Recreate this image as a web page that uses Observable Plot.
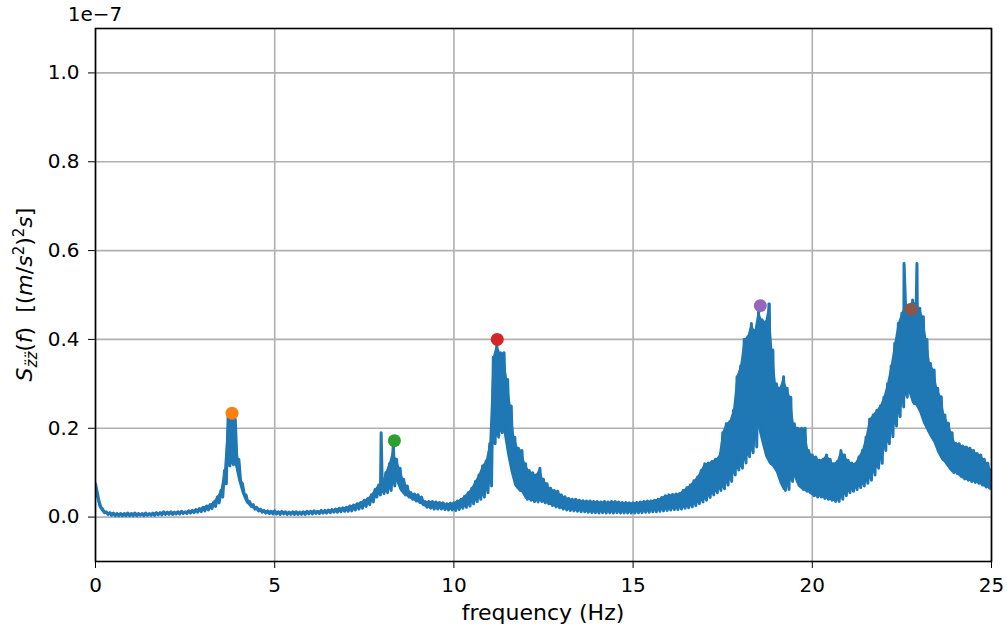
<!DOCTYPE html>
<html><head><meta charset="utf-8">
<script src="https://cdn.jsdelivr.net/npm/d3@7"></script>
<script src="https://cdn.jsdelivr.net/npm/@observablehq/plot@0.6"></script>
<style>body{margin:0;background:#fff} svg{display:block}</style>
</head><body><div id="chart"></div><script>
// Power spectral density values are in units of 1e-7 (m/s^2)^2 s
const freqStep = 0.1; // Hz, spacing of the frequency bins
// upper edge of the noisy trace at each bin (0.0 ... 25.0 Hz)
const psdHigh = [
 0.075,0.035,0.018,0.012,0.010,0.009,0.008,0.008,0.008,0.009,
 0.008,0.009,0.008,0.008,0.009,0.008,0.009,0.010,0.010,0.012,
 0.011,0.012,0.011,0.012,0.013,0.012,0.014,0.015,0.017,0.019,
 0.022,0.025,0.028,0.034,0.045,0.060,0.105,0.225,0.232,0.220,
 0.130,0.075,0.050,0.035,0.028,0.022,0.018,0.015,0.014,0.013,
 0.014,0.012,0.013,0.012,0.011,0.012,0.012,0.011,0.012,0.013,
 0.013,0.014,0.013,0.015,0.015,0.016,0.017,0.018,0.020,0.021,
 0.022,0.025,0.027,0.030,0.033,0.038,0.042,0.050,0.062,0.072,
 0.075,0.100,0.120,0.150,0.130,0.110,0.085,0.070,0.055,0.052,
 0.050,0.045,0.035,0.035,0.035,0.034,0.033,0.032,0.030,0.031,
 0.032,0.036,0.040,0.047,0.055,0.065,0.080,0.095,0.115,0.126,
 0.165,0.360,0.390,0.370,0.370,0.310,0.250,0.180,0.155,0.150,
 0.120,0.105,0.100,0.095,0.110,0.085,0.075,0.065,0.060,0.058,
 0.050,0.046,0.042,0.040,0.040,0.038,0.037,0.036,0.036,0.035,
 0.035,0.034,0.035,0.034,0.035,0.035,0.034,0.033,0.033,0.032,
 0.032,0.033,0.034,0.035,0.036,0.036,0.038,0.040,0.044,0.048,
 0.050,0.051,0.052,0.053,0.060,0.066,0.072,0.082,0.090,0.105,
 0.120,0.122,0.125,0.130,0.136,0.190,0.210,0.215,0.240,0.316,
 0.340,0.400,0.406,0.436,0.420,0.466,0.444,0.440,0.480,0.376,
 0.300,0.290,0.316,0.290,0.270,0.210,0.200,0.200,0.200,0.150,
 0.140,0.135,0.128,0.130,0.140,0.130,0.120,0.125,0.150,0.140,
 0.128,0.122,0.120,0.135,0.150,0.180,0.220,0.230,0.240,0.250,
 0.270,0.300,0.340,0.391,0.436,0.459,0.480,0.470,0.489,0.480,
 0.470,0.451,0.400,0.346,0.331,0.290,0.271,0.230,0.211,0.190,
 0.166,0.165,0.160,0.158,0.155,0.150,0.143,0.140,0.130,0.121,0.106
];
// lower edge of the noisy trace, half a bin later
const psdLow = [
 0.055,0.022,0.010,0.006,0.004,0.003,0.003,0.003,0.003,0.003,
 0.003,0.003,0.004,0.003,0.004,0.004,0.004,0.005,0.005,0.006,
 0.006,0.006,0.007,0.007,0.008,0.008,0.009,0.010,0.011,0.012,
 0.014,0.016,0.019,0.024,0.032,0.045,0.075,0.115,0.118,0.117,
 0.080,0.052,0.033,0.024,0.018,0.014,0.011,0.009,0.008,0.007,
 0.007,0.006,0.007,0.006,0.006,0.006,0.006,0.006,0.006,0.007,
 0.007,0.008,0.008,0.009,0.009,0.010,0.011,0.011,0.012,0.013,
 0.013,0.014,0.016,0.018,0.020,0.024,0.028,0.034,0.045,0.050,
 0.053,0.055,0.060,0.070,0.080,0.060,0.050,0.045,0.040,0.036,
 0.033,0.028,0.022,0.020,0.018,0.018,0.018,0.017,0.016,0.016,
 0.015,0.017,0.020,0.022,0.025,0.030,0.035,0.040,0.045,0.055,
 0.070,0.165,0.180,0.190,0.190,0.140,0.100,0.070,0.060,0.055,
 0.040,0.038,0.035,0.034,0.035,0.032,0.030,0.026,0.023,0.021,
 0.018,0.016,0.015,0.014,0.013,0.012,0.012,0.011,0.010,0.010,
 0.009,0.010,0.009,0.010,0.009,0.010,0.009,0.009,0.009,0.009,
 0.009,0.010,0.010,0.011,0.011,0.012,0.012,0.013,0.014,0.015,
 0.016,0.017,0.017,0.018,0.020,0.021,0.023,0.026,0.030,0.034,
 0.038,0.044,0.050,0.055,0.060,0.064,0.072,0.080,0.095,0.106,
 0.110,0.122,0.136,0.145,0.158,0.200,0.166,0.136,0.120,0.113,
 0.100,0.076,0.060,0.062,0.080,0.090,0.070,0.062,0.058,0.055,
 0.048,0.045,0.045,0.042,0.040,0.038,0.035,0.035,0.040,0.048,
 0.055,0.058,0.062,0.066,0.070,0.076,0.083,0.095,0.110,0.121,
 0.150,0.165,0.181,0.205,0.226,0.248,0.270,0.280,0.255,0.250,
 0.235,0.211,0.195,0.180,0.166,0.145,0.130,0.121,0.110,0.100,
 0.098,0.092,0.086,0.083,0.080,0.078,0.076,0.072,0.068,0.065,0.060
];
// isolated narrow spikes
const spikeFreq = [7.97, 8.31, 18.79, 22.56, 22.92];
const spikeVal  = [0.190, 0.165, 0.480, 0.571, 0.571];
// marked peaks
const peakFreq  = [3.81, 8.34, 11.21, 18.55, 22.76];
const peakVal   = [0.234, 0.172, 0.400, 0.476, 0.468];
const peakColor = ["#ff7f0e", "#2ca02c", "#d62728", "#9467bd", "#8c564b"];
const xTicks = [0, 5, 10, 15, 20, 25];
const yTicks = [0.0, 0.2, 0.4, 0.6, 0.8, 1.0];

const trace = [];
const band = [];
for (let i = 0; i < psdHigh.length; i++) {
  const f = i * freqStep;
  band.push({f, lo: psdLow[i], hi: psdHigh[i]});
  trace.push({f, v: psdHigh[i]});
  if (i < psdHigh.length - 1) trace.push({f: f + freqStep / 2, v: psdLow[i]});
}
spikeFreq.forEach((f, i) => trace.push({f, v: spikeVal[i]}));
trace.sort((a, b) => a.f - b.f);
const peaks = peakFreq.map((f, i) => ({f, v: peakVal[i], c: peakColor[i]}));

const plot = Plot.plot({
  width: 1007, height: 632,
  marginLeft: 95, marginRight: 16, marginTop: 28, marginBottom: 71,
  style: {fontFamily: "DejaVu Sans", fontSize: "20px", color: "black", background: "white"},
  x: {domain: [0, 25], ticks: xTicks, label: null, tickSize: 7, tickPadding: 9},
  y: {domain: [-0.1, 1.1], ticks: yTicks, tickFormat: d3.format(".1f"), label: null, tickSize: 7, tickPadding: 9},
  color: {type: "identity"},
  marks: [
    Plot.gridX(xTicks, {stroke: "#b0b0b0", strokeOpacity: 1, strokeWidth: 1.6}),
    Plot.gridY(yTicks, {stroke: "#b0b0b0", strokeOpacity: 1, strokeWidth: 1.6}),
    Plot.areaY(band, {x: "f", y1: "lo", y2: "hi", fill: "#1f77b4", clip: true}),
    Plot.line(trace, {x: "f", y: "v", stroke: "#1f77b4", strokeWidth: 3, clip: true}),
    Plot.dot(peaks, {x: "f", y: "v", fill: "c", r: 6.5}),
    Plot.frame({stroke: "black", strokeWidth: 1.6})
  ]
});

const svg = d3.select(plot);
svg.append("text").attr("x", 95).attr("y", 21).attr("font-size", 20).attr("fill", "black").text("1e\u22127");
svg.append("text").attr("x", 543).attr("y", 620).attr("text-anchor", "middle").attr("font-size", 22).attr("fill", "black").text("frequency (Hz)");
const yl = svg.append("text").attr("transform", "translate(32,294.5) rotate(-90)")
  .attr("text-anchor", "middle").attr("font-size", 22).attr("fill", "black");
const parts = [
  ["S", {"font-style": "italic"}],
  ["z\u0308z\u0308", {"font-style": "italic", "font-size": 15, dy: 5}],
  ["(", {dy: -5}],
  ["f", {"font-style": "italic"}],
  [")\u00a0\u00a0[(", {}],
  ["m", {"font-style": "italic"}],
  ["/", {}],
  ["s", {"font-style": "italic"}],
  ["2", {"font-size": 15, dy: -8}],
  [")", {dy: 8}],
  ["2", {"font-size": 15, dy: -8}],
  ["s", {"font-style": "italic", dy: 8}],
  ["]", {}]
];
for (const [t, a] of parts) {
  const ts = yl.append("tspan").text(t);
  for (const k in a) ts.attr(k, a[k]);
}
document.getElementById("chart").appendChild(plot);
</script></body></html>
